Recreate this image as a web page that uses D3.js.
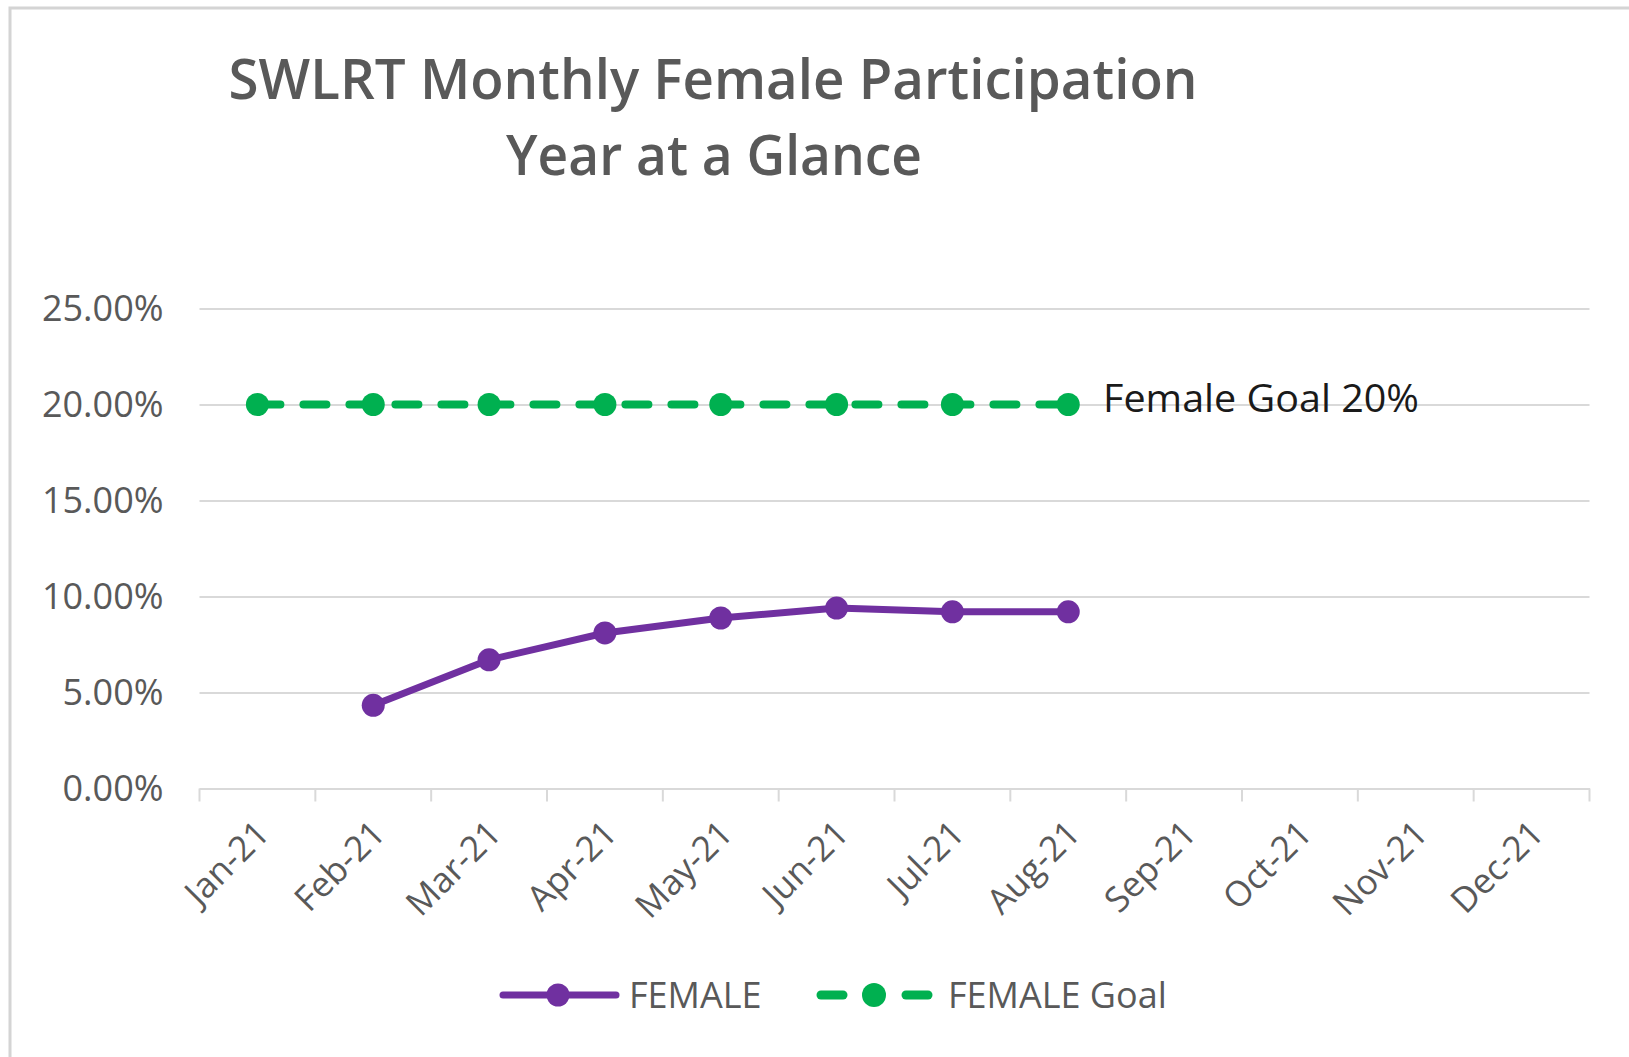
<!DOCTYPE html>
<html>
    <head>
        <title>SWLRT Monthly Female Participation</title>
        <script src="https://d3js.org/d3.v7.min.js"></script>
        <style>
        body {margin: 0; background: #ffffff;}
        svg {display: block; font-family: "Open Sans", sans-serif;}
        </style>
    </head>
    <body>
        <svg class="chart" width="1629" height="1057"></svg>
        <script>
            var months = ["Jan-21","Feb-21","Mar-21","Apr-21","May-21","Jun-21","Jul-21","Aug-21","Sep-21","Oct-21","Nov-21","Dec-21"];
            var female = [null, 0.0433, 0.0670, 0.0810, 0.0888, 0.0940, 0.0920, 0.0920, null, null, null, null];
            var femaleGoal = [0.20, 0.20, 0.20, 0.20, 0.20, 0.20, 0.20, 0.20, null, null, null, null];
            var yTicks = [0, 0.05, 0.10, 0.15, 0.20, 0.25];
            var seriesNames = ["FEMALE", "FEMALE Goal"];

            var purple = "#7030a0", green = "#00b050";

            var svg = d3.select(".chart");

            // chart area border
            svg.append("rect")
                .attr("x", 10).attr("y", 8)
                .attr("width", 1640).attr("height", 1080)
                .attr("fill", "none")
                .attr("stroke", "#d4d4d4")
                .attr("stroke-width", 3);

            var x = d3.scaleBand().domain(months).range([199.5, 1589.5]);
            var y = d3.scaleLinear().domain([0, 0.25]).range([788.5, 308.5]);

            // title
            svg.append("text")
                .attr("x", 713).attr("y", 99)
                .attr("text-anchor", "middle")
                .attr("font-size", 56).attr("font-weight", 600)
                .attr("fill", "#595959")
                .attr("textLength", 969).attr("lengthAdjust", "spacingAndGlyphs")
                .text("SWLRT Monthly Female Participation");
            svg.append("text")
                .attr("x", 714).attr("y", 175)
                .attr("text-anchor", "middle")
                .attr("font-size", 56).attr("font-weight", 600)
                .attr("fill", "#595959")
                .attr("textLength", 416).attr("lengthAdjust", "spacingAndGlyphs")
                .text("Year at a Glance");

            // gridlines + y labels
            var yAxis = svg.append("g")
                .attr("transform", "translate(199.5,0)")
                .call(d3.axisLeft(y).tickValues(yTicks).tickSize(-1390).tickPadding(36)
                    .tickFormat(d3.format(".2%")));
            yAxis.select(".domain").remove();
            yAxis.selectAll(".tick line").attr("stroke", "#d9d9d9").attr("stroke-width", 2);
            yAxis.selectAll(".tick text")
                .attr("font-size", 36).attr("fill", "#595959")
                .attr("font-family", "Open Sans, sans-serif");

            // x axis
            var xAxis = svg.append("g")
                .attr("transform", "translate(0,788.5)")
                .call(d3.axisBottom(x).tickSize(0).tickPadding(0));
            xAxis.select(".domain").attr("stroke", "#d9d9d9").attr("stroke-width", 2);
            xAxis.selectAll(".tick text")
                .attr("font-size", 35).attr("fill", "#595959")
                .attr("font-family", "Open Sans, sans-serif")
                .attr("text-anchor", "end")
                .attr("dy", null)
                .attr("transform", "translate(14,47) rotate(-45)");
            xAxis.selectAll(".bound")
                .data(d3.range(months.length + 1))
                .enter().append("line")
                .attr("x1", function(i){return x.range()[0] + i * x.step();})
                .attr("x2", function(i){return x.range()[0] + i * x.step();})
                .attr("y1", 0).attr("y2", 13)
                .attr("stroke", "#d9d9d9").attr("stroke-width", 2);

            var cx = function(i){return x(months[i]) + x.bandwidth() / 2;};
            var line = d3.line()
                .defined(function(d){return d != null;})
                .x(function(d,i){return cx(i);})
                .y(function(d){return y(d);});

            // goal series
            svg.append("path")
                .datum(femaleGoal)
                .attr("d", line)
                .attr("fill", "none")
                .attr("stroke", green).attr("stroke-width", 8)
                .attr("stroke-dasharray", "23,23")
                .attr("stroke-linecap", "round");
            svg.selectAll(".goalDot")
                .data(femaleGoal.map(function(d,i){return {v:d, i:i};}).filter(function(d){return d.v != null;}))
                .enter().append("circle")
                .attr("cx", function(d){return cx(d.i);})
                .attr("cy", function(d){return y(d.v);})
                .attr("r", 11.5).attr("fill", green);

            // female series
            svg.append("path")
                .datum(female)
                .attr("d", line)
                .attr("fill", "none")
                .attr("stroke", purple).attr("stroke-width", 7)
                .attr("stroke-linejoin", "round").attr("stroke-linecap", "round");
            svg.selectAll(".femDot")
                .data(female.map(function(d,i){return {v:d, i:i};}).filter(function(d){return d.v != null;}))
                .enter().append("circle")
                .attr("cx", function(d){return cx(d.i);})
                .attr("cy", function(d){return y(d.v);})
                .attr("r", 11.5).attr("fill", purple);

            // goal label
            svg.append("text")
                .attr("x", 1103).attr("y", 412)
                .attr("font-size", 38).attr("fill", "#1a1a1a")
                .attr("textLength", 316).attr("lengthAdjust", "spacingAndGlyphs")
                .text("Female Goal 20%");

            // legend
            var legend = svg.append("g").attr("transform", "translate(0,995)");
            legend.append("line").attr("x1", 503).attr("x2", 616).attr("y1", 0).attr("y2", 0)
                .attr("stroke", purple).attr("stroke-width", 7).attr("stroke-linecap", "round");
            legend.append("circle").attr("cx", 558).attr("cy", 0).attr("r", 11.5).attr("fill", purple);
            legend.append("text").attr("x", 629).attr("y", 13).attr("font-size", 36).attr("fill", "#595959")
                .text(seriesNames[0]);
            legend.append("line").attr("x1", 821).attr("x2", 843).attr("y1", 0).attr("y2", 0)
                .attr("stroke", green).attr("stroke-width", 9).attr("stroke-linecap", "round");
            legend.append("line").attr("x1", 906).attr("x2", 928).attr("y1", 0).attr("y2", 0)
                .attr("stroke", green).attr("stroke-width", 9).attr("stroke-linecap", "round");
            legend.append("circle").attr("cx", 874).attr("cy", 0).attr("r", 12).attr("fill", green);
            legend.append("text").attr("x", 948).attr("y", 13).attr("font-size", 36).attr("fill", "#595959")
                .text(seriesNames[1]);
        </script>
    </body>
</html>
